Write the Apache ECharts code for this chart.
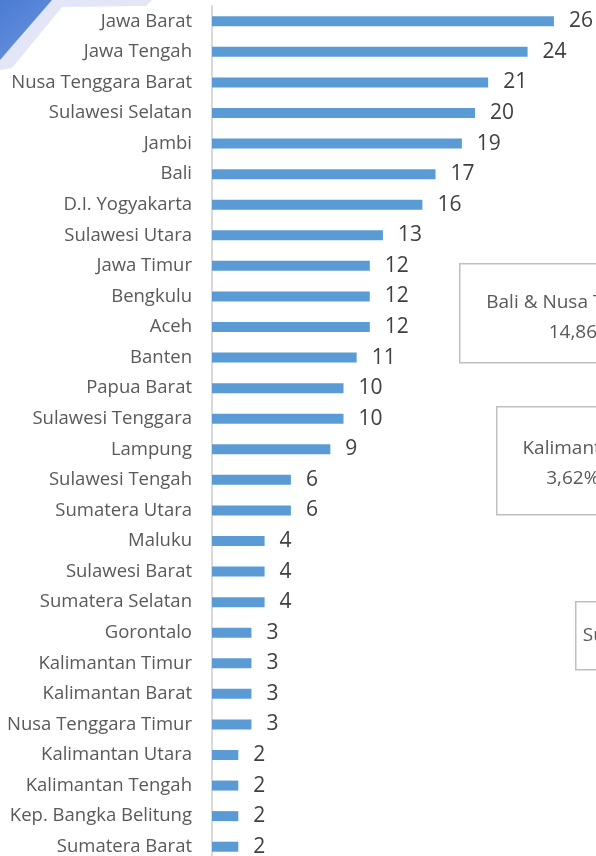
<!DOCTYPE html>
<html>
<head>
<meta charset="utf-8">
<script src="https://cdn.jsdelivr.net/npm/echarts@6/dist/echarts.min.js"></script>
<style>
  html, body { margin: 0; padding: 0; background: #fff; }
  #chart { width: 596px; height: 856px; }
</style>
</head>
<body>
<div id="chart"></div>
<script>
var provinces = ['Jawa Barat', 'Jawa Tengah', 'Nusa Tenggara Barat', 'Sulawesi Selatan', 'Jambi', 'Bali',
    'D.I. Yogyakarta', 'Sulawesi Utara', 'Jawa Timur', 'Bengkulu', 'Aceh', 'Banten', 'Papua Barat',
    'Sulawesi Tenggara', 'Lampung', 'Sulawesi Tengah', 'Sumatera Utara', 'Maluku', 'Sulawesi Barat',
    'Sumatera Selatan', 'Gorontalo', 'Kalimantan Timur', 'Kalimantan Barat', 'Nusa Tenggara Timur',
    'Kalimantan Utara', 'Kalimantan Tengah', 'Kep. Bangka Belitung', 'Sumatera Barat'];
var counts = [26, 24, 21, 20, 19, 17, 16, 13, 12, 12, 12, 11, 10, 10, 9, 6, 6, 4, 4, 4, 3, 3, 3, 3, 2, 2, 2, 2];
var regionNames = ['Bali & Nusa Tenggara', 'Kalimantan', 'Sumatera'];
var regionShares = ['14,86%', '3,62%', ''];

var myChart = echarts.init(document.getElementById('chart'));

// kotak keterangan wilayah di kanan (terpotong oleh tepi gambar)
function regionBox(x, y, w, h, dy, name, share) {
    return {
        type: 'group',
        left: x,
        top: y,
        children: [
            { type: 'rect', shape: { x: 0, y: 0, width: w, height: h },
              style: { fill: '#fff', stroke: '#bfbfbf', lineWidth: 1.5 } },
            { type: 'text', x: w / 2, y: h / 2 + dy,
              style: { text: name + '\n' + share, fill: '#595959', font: '19px "Open Sans"',
                       align: 'center', verticalAlign: 'middle', lineHeight: 30 } }
        ]
    };
}

var option = {
    animation: false,
    grid: { left: 212, top: 6, width: 13.15 * 30, height: 856, outerBoundsMode: 'none' },
    xAxis: {
        type: 'value',
        min: 0,
        max: 30,
        show: false
    },
    yAxis: {
        type: 'category',
        inverse: true,
        data: provinces,
        axisLine: { show: true, lineStyle: { color: '#d9d9d9', width: 2 } },
        axisTick: { show: false },
        axisLabel: { color: '#595959', fontSize: 18.5, fontFamily: 'Open Sans', margin: 20 }
    },
    series: [{
        type: 'bar',
        data: counts,
        barWidth: 10,
        itemStyle: { color: '#5b9bd5' },
        label: {
            show: true,
            position: 'right',
            distance: 15,
            color: '#404040',
            fontSize: 21,
            fontFamily: 'Open Sans'
        }
    }],
    graphic: [
        { type: 'polygon', shape: { points: [[50, 0], [152, 0], [146, 6], [62, 7], [12, 68], [0, 70], [0, 58]] },
          style: { fill: '#e2e6f6' }, z: -1 },
        { type: 'polygon', shape: { points: [[0, 0], [52, 0], [0, 60]] },
          style: { fill: new echarts.graphic.LinearGradient(0, 0, 1, 1, [
              { offset: 0, color: '#4a7bd4' }, { offset: 1, color: '#6e96dc' }]) } },
        regionBox(459, 263, 242, 99, 4, regionNames[0], regionShares[0]),
        regionBox(496, 406, 152, 108, 3, regionNames[1], regionShares[1]),
        regionBox(575, 601, 100, 68, 15, regionNames[2], regionShares[2])
    ]
};

myChart.setOption(option);
</script>
</body>
</html>
